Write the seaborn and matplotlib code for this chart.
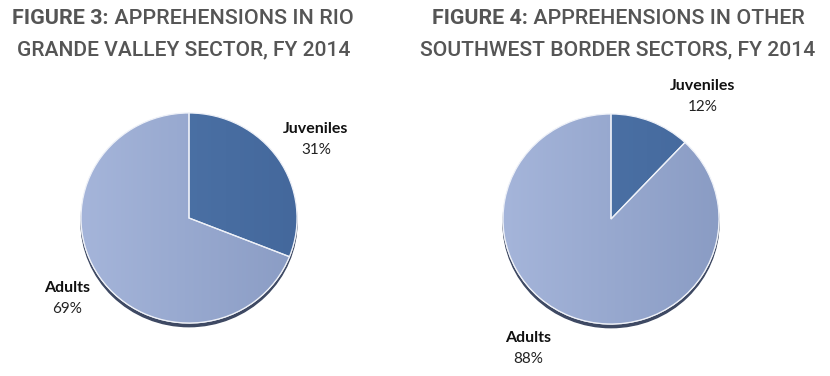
import numpy as np
import matplotlib.pyplot as plt
import seaborn as sns
from matplotlib.patches import Ellipse
from matplotlib.colors import LinearSegmentedColormap

sns.set_theme(style="white")
plt.rcParams['font.family'] = ['Lato', 'DejaVu Sans']

# Data
labels = ["Juveniles", "Adults"]
rgv_share = [31, 69]
other_share = [12, 88]
title_bold = ["FIGURE 3:", "FIGURE 4:"]
title_line1 = [" APPREHENSIONS IN RIO", " APPREHENSIONS IN OTHER"]
title_line2 = ["GRANDE VALLEY SECTOR, FY 2014", "SOUTHWEST BORDER SECTORS, FY 2014"]

W, H = 830, 376
fig = plt.figure(figsize=(W / 100, H / 100), dpi=100)
fig.patch.set_facecolor("white")
renderer = fig.canvas.get_renderer()

juv_cmap = LinearSegmentedColormap.from_list("juv", ["#5077ab", "#44689c"])
adult_cmap = LinearSegmentedColormap.from_list("adult", ["#a5b5da", "#8a9cc4"])
grad = np.tile(np.linspace(0, 1, 256), (64, 1))


def px(x, y):
    return x / W, 1 - y / H


def draw_title(x_left, x_right, y, bold, regular, color="#555555"):
    # fit the line into the reference's width
    size = 16
    kw = dict(color=color, va="baseline", family=["Roboto", "DejaVu Sans"])
    t1 = fig.text(0, 0, bold, fontsize=size, fontweight="bold", **kw)
    t2 = fig.text(0, 0, regular, fontsize=size, fontweight="medium", **kw)
    w = sum(t.get_window_extent(renderer).width for t in (t1, t2) if t.get_text())
    size = size * (x_right - x_left) / w
    for t in (t1, t2):
        t.set_fontsize(size)
    w1 = t1.get_window_extent(renderer).width if bold else 0
    t1.set_position(px(x_left, y))
    t2.set_position(px(x_left + w1, y))


def draw_pie(values, cx, cy, rx, ry, label_pos):
    ax = fig.add_axes([(cx - rx) / W, (H - cy - ry) / H, 2 * rx / W, 2 * ry / H])
    wedges, _ = ax.pie(values, colors=["#4a6fa3", "#97a9cf"], startangle=90,
                       counterclock=False, radius=1,
                       wedgeprops=dict(linewidth=0.9, edgecolor="white"))
    ax.add_patch(Ellipse((0, -0.035), 2.0, 2.0, color="#3e4963", zorder=0, clip_on=False))
    for wedge, cmap in zip(wedges, [juv_cmap, adult_cmap]):
        im = ax.imshow(grad, extent=(-1, 1, -1, 1), cmap=cmap, aspect="auto", zorder=1.5)
        im.set_clip_path(wedge)
    for wedge in wedges:
        wedge.set_zorder(1)
    # light separators on top
    ax.pie(values, colors=["none", "none"], startangle=90, counterclock=False, radius=1,
           wedgeprops=dict(linewidth=0.9, edgecolor="#eef1f8", zorder=2))
    ax.set_aspect("auto")
    ax.set_xlim(-1, 1)
    ax.set_ylim(-1, 1)
    ax.axis("off")
    for lab, v, (lx, ly) in zip(labels, values, label_pos):
        fig.text(*px(lx, ly), lab, fontsize=11.5, fontweight="bold", color="#111111",
                 ha="center", va="center")
        fig.text(*px(lx, ly + 21), f"{v}%", fontsize=11, color="#222222",
                 ha="center", va="center")


draw_title(12, 352, 24, title_bold[0], title_line1[0])
draw_title(17, 350, 55, "", title_line2[0])
draw_title(432, 805, 24, title_bold[1], title_line1[1])
draw_title(420, 815, 55, "", title_line2[1])

draw_pie(rgv_share, 189, 218, 108, 105, [(316, 129), (67, 288)])
draw_pie(other_share, 611, 219, 108, 105, [(703, 86), (528, 338)])

fig.savefig("out.png", dpi=100, facecolor="white")
